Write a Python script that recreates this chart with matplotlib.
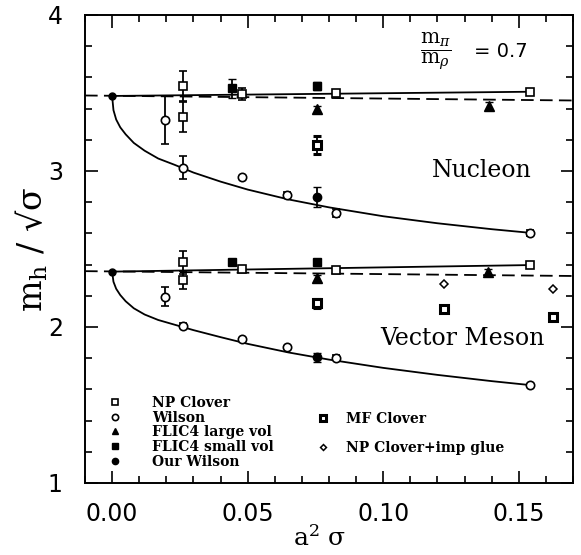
import matplotlib
matplotlib.use("Agg")
import matplotlib.pyplot as plt
from matplotlib.lines import Line2D
from matplotlib.ticker import MultipleLocator, FormatStrFormatter

plt.rcParams['mathtext.fontset'] = 'dejavuserif'

# ---- nucleon ----
nuc_np_x = [0.026, 0.026, 0.048, 0.0825, 0.154]
nuc_np_y = [3.545, 3.348, 3.494, 3.502, 3.508]
nuc_np_err = [0.097, 0.096, 0.04, 0.02, 0.012]

nuc_wil_x = [0.0195, 0.026, 0.048, 0.0645, 0.0825, 0.154]
nuc_wil_y = [3.327, 3.021, 2.96, 2.846, 2.729, 2.605]
nuc_wil_err = [0.155, 0.072, 0.0, 0.02, 0.025, 0.02]

nuc_flic_l_x = [0.0757, 0.139]
nuc_flic_l_y = [3.395, 3.417]
nuc_flic_l_err = [0.02, 0.025]

nuc_flic_s_x = [0.0443, 0.0757]
nuc_flic_s_y = [3.530, 3.545]
nuc_flic_s_err = [0.06, 0.025]

nuc_mf_x = [0.0757]
nuc_mf_y = [3.167]
nuc_mf_err = [0.058]

nuc_our_x = [0.0757]
nuc_our_y = [2.835]
nuc_our_err = [0.064]

# ---- vector meson ----
vec_np_x = [0.026, 0.026, 0.048, 0.0825, 0.154]
vec_np_y = [2.415, 2.301, 2.370, 2.365, 2.397]
vec_np_err = [0.075, 0.055, 0.02, 0.015, 0.01]

vec_wil_x = [0.0195, 0.026, 0.048, 0.0645, 0.0825, 0.154]
vec_wil_y = [2.194, 2.008, 1.925, 1.874, 1.803, 1.628]
vec_wil_err = [0.06, 0.015, 0.0, 0.0, 0.015, 0.0]

vec_flic_l_x = [0.0757, 0.1385]
vec_flic_l_y = [2.316, 2.351]
vec_flic_l_err = [0.02, 0.02]

vec_flic_s_x = [0.0443, 0.0757]
vec_flic_s_y = [2.419, 2.419]
vec_flic_s_err = [0.015, 0.015]

vec_mf_x = [0.0757, 0.1225, 0.1625]
vec_mf_y = [2.152, 2.115, 2.066]
vec_mf_err = [0.03, 0.01, 0.01]

vec_imp_x = [0.1225, 0.1625]
vec_imp_y = [2.276, 2.244]

vec_our_x = [0.0757]
vec_our_y = [1.805]
vec_our_err = [0.03]

# continuum points
cont_x = [0.0, 0.0]
cont_y = [3.481, 2.355]

# fit curves
fit_x = [0, 0.0005, 0.0015, 0.003, 0.005, 0.008, 0.012, 0.017, 0.023, 0.03,
         0.04, 0.05, 0.065, 0.08, 0.1, 0.12, 0.14, 0.154]
nuc_fit = [3.481, 3.39, 3.33, 3.28, 3.235, 3.18, 3.13, 3.08, 3.04, 2.99,
           2.932, 2.881, 2.818, 2.767, 2.710, 2.665, 2.627, 2.604]
vec_fit = [2.355, 2.29, 2.245, 2.205, 2.165, 2.12, 2.08, 2.045, 2.015, 1.98,
           1.935, 1.892, 1.837, 1.791, 1.738, 1.693, 1.653, 1.628]

clover_fit_x = [0.0, 0.154]
nuc_clover_fit = [3.481, 3.508]
vec_clover_fit = [2.355, 2.397]

dash_x = [-0.01, 0.17]
nuc_dash = [3.484, 3.452]
vec_dash = [2.358, 2.327]

xticks = [0.0, 0.05, 0.10, 0.15]
yticks = [1, 2, 3, 4]

np_style = dict(marker='s', mfc='white', mec='k', ms=6, mew=1.2)
wil_style = dict(marker='o', mfc='white', mec='k', ms=6, mew=1.2)
fl_style = dict(marker='^', mfc='k', mec='k', ms=6.5, mew=1)
fs_style = dict(marker='s', mfc='k', mec='k', ms=6, mew=1)
mf_style = dict(marker='s', mfc='white', mec='k', ms=6, mew=2.2)
imp_style = dict(marker='D', mfc='white', mec='k', ms=4, mew=1.1)
our_style = dict(marker='o', mfc='k', mec='k', ms=6, mew=1)

fig = plt.figure(figsize=(5.81, 5.55), dpi=100)
ax = fig.add_axes([85 / 581, 1 - 483 / 555, 488 / 581, 468 / 555])

# fits
ax.plot(fit_x, nuc_fit, color='k', lw=1.3, zorder=2)
ax.plot(fit_x, vec_fit, color='k', lw=1.3, zorder=2)
ax.plot(clover_fit_x, nuc_clover_fit, color='k', lw=1.3, zorder=2)
ax.plot(clover_fit_x, vec_clover_fit, color='k', lw=1.3, zorder=2)
ax.plot(dash_x, nuc_dash, color='k', lw=1.3, ls=(0, (7, 3.5)), zorder=2)
ax.plot(dash_x, vec_dash, color='k', lw=1.3, ls=(0, (7, 3.5)), zorder=2)


def pts(x, y, err, style):
    ax.errorbar(x, y, yerr=err, ls='none', color='k', ecolor='k',
                elinewidth=1.3, capsize=3, capthick=1.3, zorder=3, **style)


pts(nuc_np_x, nuc_np_y, nuc_np_err, np_style)
pts(nuc_wil_x, nuc_wil_y, nuc_wil_err, wil_style)
pts(nuc_flic_l_x, nuc_flic_l_y, nuc_flic_l_err, fl_style)
pts(nuc_flic_s_x, nuc_flic_s_y, nuc_flic_s_err, fs_style)
pts(nuc_mf_x, nuc_mf_y, nuc_mf_err, mf_style)
pts(nuc_our_x, nuc_our_y, nuc_our_err, our_style)

pts(vec_np_x, vec_np_y, vec_np_err, np_style)
pts(vec_wil_x, vec_wil_y, vec_wil_err, wil_style)
pts(vec_flic_l_x, vec_flic_l_y, vec_flic_l_err, fl_style)
pts(vec_flic_s_x, vec_flic_s_y, vec_flic_s_err, fs_style)
pts(vec_mf_x, vec_mf_y, vec_mf_err, mf_style)
pts(vec_our_x, vec_our_y, vec_our_err, our_style)
ax.plot(vec_imp_x, vec_imp_y, ls='none', zorder=3, **imp_style)
ax.plot(cont_x, cont_y, ls='none', marker='o', color='k', ms=5, zorder=4)

ax.set_xlim(-0.01, 0.17)
ax.set_ylim(1, 4)
ax.set_xticks(xticks)
ax.set_yticks(yticks)
ax.xaxis.set_major_formatter(FormatStrFormatter('%.2f'))
ax.xaxis.set_minor_locator(MultipleLocator(0.01))
ax.yaxis.set_minor_locator(MultipleLocator(0.2))
ax.tick_params(which='both', direction='in', top=True, right=True, width=1.2)
ax.tick_params(which='major', length=9)
ax.tick_params(which='minor', length=5)
ax.tick_params(axis='x', which='major', labelsize=17, pad=14)
ax.tick_params(axis='y', which='major', labelsize=17, pad=16)
for s in ax.spines.values():
    s.set_linewidth(1.4)

ax.set_xlabel('a$^2$ σ', family='DejaVu Serif', fontsize=18)
ax.xaxis.label.set_verticalalignment('baseline')
ax.xaxis.set_label_coords((320 - 85) / 488, (483 - 546) / 468)
ax.set_ylabel('m$_{\\rm h}$ / √σ', family='DejaVu Serif', fontsize=24)
ax.yaxis.label.set_verticalalignment('baseline')
ax.yaxis.set_label_coords((43 - 85) / 488, 0.5)

ax.text(0.1365, 2.962, 'Nucleon', family='DejaVu Serif', fontsize=17,
        ha='center', va='baseline')
ax.text(0.1293, 1.885, 'Vector Meson', family='DejaVu Serif', fontsize=17,
        ha='center', va='baseline')
ax.text(0.1193, 3.763, r'$\dfrac{\mathrm{m}_\pi}{\mathrm{m}_\rho}$', fontsize=14.5,
        ha='center', va='center')
ax.text(0.1435, 3.763, '= 0.7', family='DejaVu Sans', fontsize=14,
        ha='center', va='center')

leg_font = {'family': 'DejaVu Serif', 'weight': 'bold', 'size': 10}
h1 = [Line2D([], [], ls='none', **np_style),
      Line2D([], [], ls='none', **wil_style),
      Line2D([], [], ls='none', **fl_style),
      Line2D([], [], ls='none', **fs_style),
      Line2D([], [], ls='none', **our_style)]
l1 = ['NP Clover', 'Wilson', 'FLIC4 large vol', 'FLIC4 small vol', 'Our Wilson']
leg1 = ax.legend(h1, l1, loc='upper left', bbox_to_anchor=(0.047, 0.186),
                 frameon=False, borderpad=0, borderaxespad=0, handlelength=1.0,
                 handletextpad=2.2, labelspacing=0.05, prop=leg_font,
                 markerscale=0.75, numpoints=1)
ax.add_artist(leg1)
h2 = [Line2D([], [], ls='none', **mf_style),
      Line2D([], [], ls='none', marker='none'),
      Line2D([], [], ls='none', **imp_style)]
l2 = ['MF Clover', ' ', 'NP Clover+imp glue']
ax.legend(h2, l2, loc='upper left', bbox_to_anchor=(0.473, 0.152),
          frameon=False, borderpad=0, borderaxespad=0, handlelength=1.0,
          handletextpad=1.2, labelspacing=0.05, prop=leg_font,
          markerscale=0.75, numpoints=1)

fig.savefig('out.png', dpi=100)
